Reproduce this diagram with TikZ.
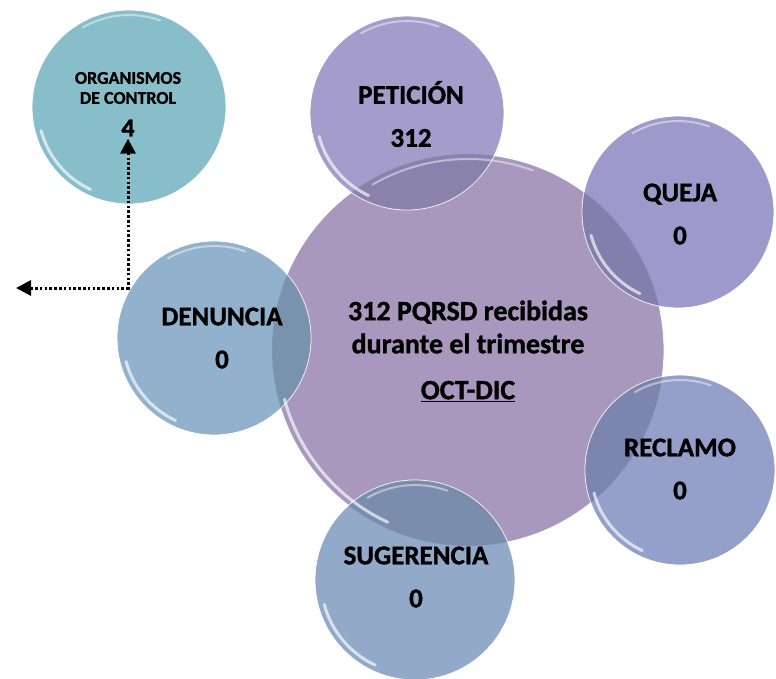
\documentclass[tikz,border=0pt]{standalone}
\usepackage{fontspec}
\setmainfont{Carlito}[BoldFeatures={FakeBold=1.2}]
\usetikzlibrary{arrows.meta}

\definecolor{centre}{RGB}{168,152,190}
\definecolor{peticion}{RGB}{156,148,198}
\definecolor{queja}{RGB}{148,145,198}
\definecolor{reclamo}{RGB}{140,152,198}
\definecolor{sugerencia}{RGB}{138,162,198}
\definecolor{denuncia}{RGB}{136,170,200}
\definecolor{organismo}{RGB}{136,190,202}

\begin{document}
\begin{tikzpicture}[x=1pt, y=-1pt,
  >={Triangle[length=15pt,width=15pt]},
  bubble/.style={circle, inner sep=0pt, draw=white, line width=0.8pt},
  big text/.style={align=center, font=\bfseries\fontsize{27}{43}\selectfont},
  small text/.style={align=center, font=\bfseries\fontsize{18}{20}\selectfont},
  dot arrow/.style={<->, line width=3pt, dash pattern=on 2.6pt off 2.2pt}]
\useasboundingbox (0,0) rectangle (776,678);

% circles
\node[bubble, fill=centre, minimum size=392pt] (c) at (468,350) {};
\node[bubble, fill=peticion, fill opacity=0.92, minimum size=194pt] (p) at (407,113) {};
\node[bubble, fill=queja, fill opacity=0.92, minimum size=192pt] (q) at (678,212) {};
\node[bubble, fill=reclamo, fill opacity=0.92, minimum size=190pt] (r) at (680,470) {};
\node[bubble, fill=sugerencia, fill opacity=0.92, minimum size=200pt] (s) at (415,580) {};
\node[bubble, fill=denuncia, fill opacity=0.92, minimum size=194pt] (d) at (214,338) {};
\node[bubble, fill=organismo, minimum size=194pt] (o) at (129,107) {};

% darker where the small circles sit on the big one
\begin{scope}
\clip (468,350) circle (196pt);
\foreach \cx/\cy/\rr in {407/113/97, 678/212/96, 680/470/95, 415/580/100, 214/338/97}
  \fill[black, opacity=0.12] (\cx,\cy) circle (\rr pt);
\end{scope}

% shine
\foreach \cx/\cy/\rr in {468/350/196, 407/113/97, 678/212/96, 680/470/95, 415/580/100, 214/338/97, 129/107/97}
{
  \draw[white, opacity=0.65, line width=3pt, line cap=round] (\cx,\cy) ++(115:\rr-6) arc[start angle=115, end angle=165, radius=\rr-6];
  \draw[white, opacity=0.45, line width=2pt, line cap=round] (\cx,\cy) ++(240:\rr-5) arc[start angle=240, end angle=290, radius=\rr-5];
}

% texts
\node[align=center, font=\bfseries\fontsize{28}{33}\selectfont] (ct) at (468,351) {312 PQRSD recibidas\\durante el trimestre\\[13pt]\underline{OCT-DIC}};
\node[big text] (pt) at (411,114) {PETICIÓN\\312};
\node[big text] (qt) at (680,214) {QUEJA\\0};
\node[big text] (rt) at (680,469) {RECLAMO\\0};
\node[big text] (st) at (416,577) {SUGERENCIA\\0};
\node[big text] (dt) at (222,338) {DENUNCIA\\0};
\node[small text] (ot) at (128,88) {ORGANISMOS\\DE CONTROL};
\node[font=\bfseries\fontsize{26}{28}\selectfont, inner sep=2pt] (o4) at (128,128) {4};

% arrow
\coordinate (out) at (16,288);
\draw[dot arrow] (out) -| (o4.south);
\end{tikzpicture}
\end{document}
